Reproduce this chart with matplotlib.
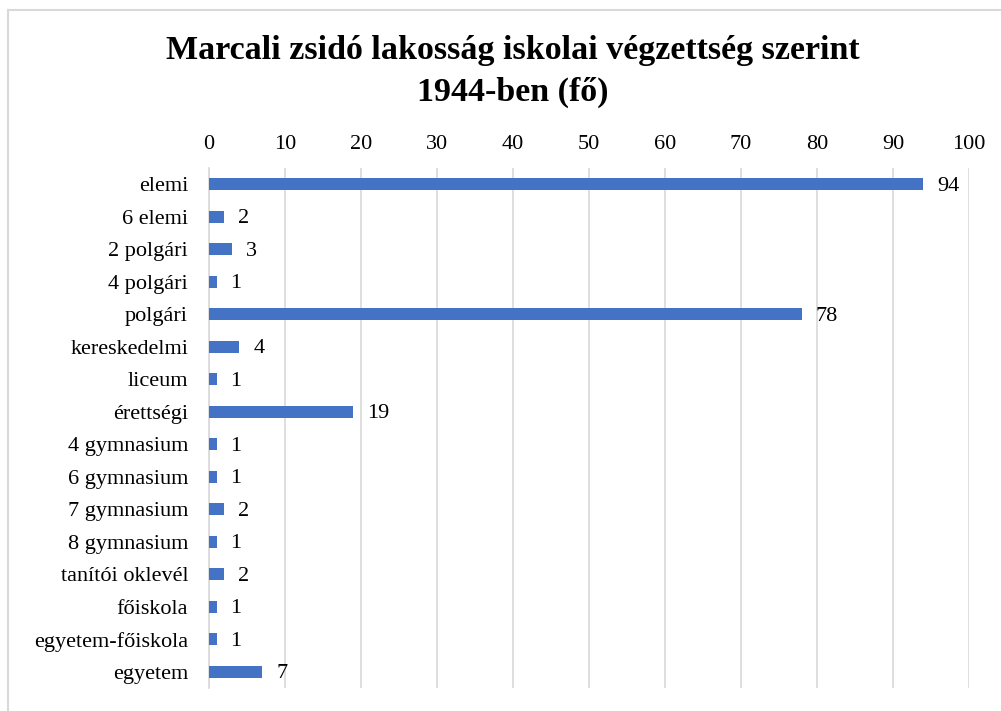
import matplotlib.pyplot as plt
from matplotlib.lines import Line2D

# categories and head counts, top to bottom as in the chart
categories = ["elemi", "6 elemi", "2 polgári", "4 polgári", "polgári", "kereskedelmi",
              "liceum", "érettségi", "4 gymnasium", "6 gymnasium", "7 gymnasium",
              "8 gymnasium", "tanítói oklevél", "főiskola", "egyetem-főiskola", "egyetem"]
counts = [94, 2, 3, 1, 78, 4, 1, 19, 1, 1, 2, 1, 2, 1, 1, 7]
xticks = [0, 10, 20, 30, 40, 50, 60, 70, 80, 90, 100]

plt.rcParams['font.family'] = ['Liberation Serif', 'DejaVu Serif']

fig = plt.figure(figsize=(10.01, 7.11), dpi=100)
ax = fig.add_axes([209/1001, 1-688/711, (969-209)/1001, (688-168)/711])

y = list(range(len(categories)))
ax.barh(y, counts, height=0.38, color="#4472C4", zorder=3)
for yi, v in zip(y, counts):
    ax.annotate(str(v), (v, yi), xytext=(10, -1.5), textcoords="offset points",
                ha="left", va="center", fontsize=16, color="#000000")

ax.set_ylim(len(categories) - 0.5, -0.5)
ax.set_yticks(y)
ax.set_yticklabels(categories, fontsize=16)
ax.set_xlim(0, 100)
ax.set_xticks(xticks)
ax.xaxis.tick_top()
ax.tick_params(axis="x", length=0, pad=10, labelsize=16)
ax.tick_params(axis="y", length=0, pad=15)
ax.grid(axis="x", color="#D9D9D9", linewidth=1.2, zorder=0)
for side in ["top", "right", "bottom"]:
    ax.spines[side].set_visible(False)
ax.spines["left"].set_color("#D9D9D9")
ax.spines["left"].set_linewidth(1.2)

fig.text(513/1001, 1-51/711, "Marcali zsidó lakosság iskolai végzettség szerint",
         ha="center", va="center", fontsize=24.5, fontweight="bold")
fig.text(513/1001, 1-92/711, "1944-ben (fő)",
         ha="center", va="center", fontsize=24.5, fontweight="bold")

# light frame on the top and left edge
fig.add_artist(Line2D([8/1001, 8/1001], [0, 1-10/711], transform=fig.transFigure,
                      color="#D9D9D9", linewidth=1.5))
fig.add_artist(Line2D([8/1001, 1], [1-10/711, 1-10/711], transform=fig.transFigure,
                      color="#D9D9D9", linewidth=1.5))

fig.savefig("out.png", dpi=100)
